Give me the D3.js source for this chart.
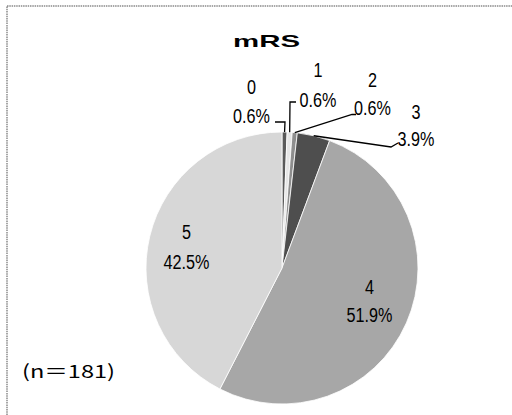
<!DOCTYPE html>
<html>
<head>
<meta charset="utf-8">
<script src="https://cdn.jsdelivr.net/npm/d3@7"></script>
<style>
  html, body { margin: 0; padding: 0; background: #fff; }
  svg { display: block; }
</style>
</head>
<body>
<svg id="chart" width="512" height="415"></svg>
<script>
// ---- data ----
const title = "mRS";
const categories = ["0", "1", "2", "3", "4", "5"];
const percents = [0.6, 0.6, 0.6, 3.9, 51.9, 42.5];
const sampleNote = "(n\uFF1D181)";

// ---- layout / style ----
const W = 512, H = 415;
const cx = 282, cy = 268, R = 136;
const colors = ["#5a5a5a", "#e6e6e6", "#8e8e8e", "#4e4e4e", "#a7a7a7", "#d7d7d7"];
// label centres: [x, y of category line, y of percent line]
const labelPos = [
  [251.5, 86.5, 115.5],
  [318, 69.5, 99.5],
  [372.5, 80, 107.5],
  [416, 111.5, 139],
  [369.5, 286.5, 315],
  [186.5, 231.5, 261.5]
];
// leader line elbow points (from arc edge to label), null = none
const leaders = [
  [[285, 122], [275, 122]],
  [[290, 102], [296, 102]],
  [[352, 114.5], [356, 114.5]],
  [[391, 147], [398, 143]],
  null,
  null
];

const svg = d3.select("#chart");

// frame
svg.append("rect")
  .attr("x", 7).attr("y", 6)
  .attr("width", W + 20).attr("height", H + 20)
  .attr("fill", "none")
  .attr("stroke", "#8a8a8a")
  .attr("stroke-width", 1.5)
  .attr("stroke-dasharray", "1.5,0.8");

// title
svg.append("text")
  .attr("x", 233).attr("y", 46.5)
  .attr("textLength", 67)
  .attr("lengthAdjust", "spacingAndGlyphs")
  .attr("font-family", "Liberation Sans, Arial, sans-serif")
  .attr("font-weight", "bold")
  .attr("font-size", 17)
  .attr("fill", "#000")
  .text(title);

const data = percents.map((p, i) => ({ cat: categories[i], p, i }));

const pie = d3.pie().sort(null).value(d => d.p).startAngle(0).endAngle(2 * Math.PI);
const arcs = pie(data);
const arc = d3.arc().innerRadius(0).outerRadius(R);
const edgeArc = d3.arc().innerRadius(R).outerRadius(R);

const g = svg.append("g").attr("transform", `translate(${cx},${cy})`);

g.selectAll("path.slice")
  .data(arcs)
  .join("path")
  .attr("class", "slice")
  .attr("d", arc)
  .attr("fill", d => colors[d.data.i])
  .attr("stroke", "#fff")
  .attr("stroke-width", 0.8);

// leader lines
const line = d3.line();
arcs.forEach(a => {
  const pts = leaders[a.data.i];
  if (!pts) return;
  const c = edgeArc.centroid(a);
  const start = [cx + c[0], cy + c[1]];
  svg.append("path")
    .attr("d", line([start, ...pts]))
    .attr("fill", "none")
    .attr("stroke", "#000")
    .attr("stroke-width", 1.3);
});

// labels (condensed look via horizontal scale)
const fontLbl = "Liberation Sans, Arial, sans-serif";
arcs.forEach(a => {
  const [lx, y1, y2] = labelPos[a.data.i];
  [[y1, a.data.cat], [y2, a.data.p.toFixed(1) + "%"]].forEach(([yy, txt]) => {
    svg.append("text")
      .attr("transform", `translate(${lx},${yy + 7}) scale(0.81,1)`)
      .attr("text-anchor", "middle")
      .attr("font-family", fontLbl)
      .attr("font-size", 20)
      .attr("fill", "#000")
      .text(txt);
  });
});

// sample size note
svg.append("text")
  .attr("x", 22).attr("y", 377.5)
  .attr("textLength", 93)
  .attr("lengthAdjust", "spacingAndGlyphs")
  .attr("font-family", "Noto Sans CJK JP, sans-serif")
  .attr("font-size", 18)
  .attr("fill", "#000")
  .text(sampleNote);
</script>
</body>
</html>
